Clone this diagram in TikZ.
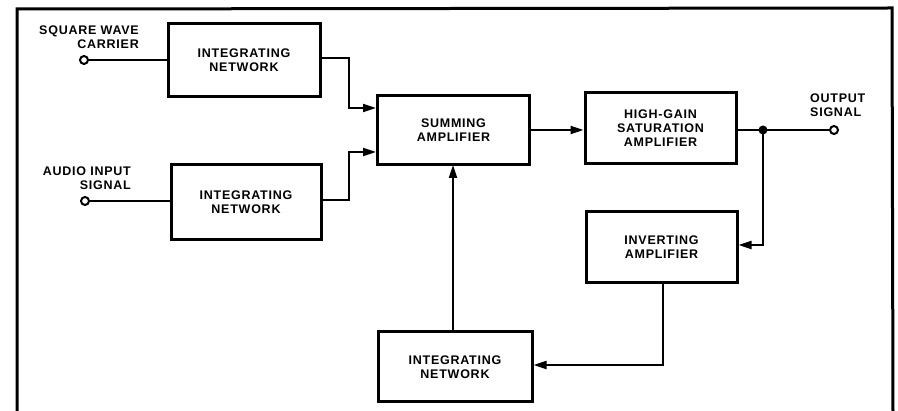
\documentclass[tikz,border=0pt]{standalone}
\usepackage{fontspec}
\setmainfont{Liberation Sans}[LetterSpace=6]
\usetikzlibrary{arrows.meta}
\begin{document}
\begin{tikzpicture}[x=1pt,y=-1pt,
  blk/.style={draw,line width=3pt,inner sep=0pt,align=center,font=\bfseries\fontsize{12.5}{14}\selectfont},
  wire/.style={line width=2pt},
  arr/.style={wire,-{Triangle[length=13pt,width=8pt]}},
  lbl/.style={font=\bfseries\fontsize{12.5}{14}\selectfont,inner sep=0pt},
  term/.style={circle,draw,line width=2pt,fill=white,minimum size=8pt,inner sep=0pt}]
\useasboundingbox (0,0) rectangle (898,411);
% frame
\draw[line width=3pt] (17,413) -- (17,9) -- (892,8) -- (893,413);
% blocks
\node[blk,minimum width=152pt,minimum height=73pt] (int1) at (244,60.5) {INTEGRATING\\NETWORK};
\node[blk,minimum width=150pt,minimum height=75pt] (int2) at (246,202.5) {INTEGRATING\\NETWORK};
\node[blk,minimum width=152pt,minimum height=69pt] (sum) at (453.5,130.5) {SUMMING\\AMPLIFIER};
\node[blk,minimum width=151pt,minimum height=71pt] (hg) at (660.5,128.5) {HIGH-GAIN\\SATURATION\\AMPLIFIER};
\node[blk,minimum width=151pt,minimum height=71pt] (inv) at (661.5,247.5) {INVERTING\\AMPLIFIER};
\node[blk,minimum width=154pt,minimum height=70pt] (int3) at (455,367) {INTEGRATING\\NETWORK};
% terminals
\node[term] (in1) at (84,60) {};
\node[term] (in2) at (85,201) {};
\node[term] (out) at (834,130) {};
\node[lbl,align=right,anchor=south east] (l1) at (139,49) {SQUARE WAVE\\CARRIER};
\node[lbl,align=right,anchor=south east] (l2) at (131,190) {AUDIO INPUT\\SIGNAL};
\node[lbl,align=left,anchor=south west] (l3) at (810,117) {OUTPUT\\SIGNAL};
% junction
\coordinate (j) at (763,130);
\fill (j) circle (4.5pt);
% connectors
\draw[wire] (in1) -- (in1 -| int1.west);
\draw[wire] (in2) -- (in2 -| int2.west);
\draw[arr] (int1.east |- 0,58) -| (349,108) -- (sum.west |- 0,108);
\draw[arr] (int2.east |- 0,200) -| (349,152) -- (sum.west |- 0,152);
\draw[arr] (sum.east |- 0,130) -- (hg.west |- 0,130);
\draw[wire] (hg.east |- 0,130) -- (j) -- (out);
\draw[arr] (j) |- (inv.east |- 0,245);
\draw[arr] (663,283) |- (int3.east |- 0,365);
\draw[arr] (453,332) -- (453,165);
\end{tikzpicture}
\end{document}
